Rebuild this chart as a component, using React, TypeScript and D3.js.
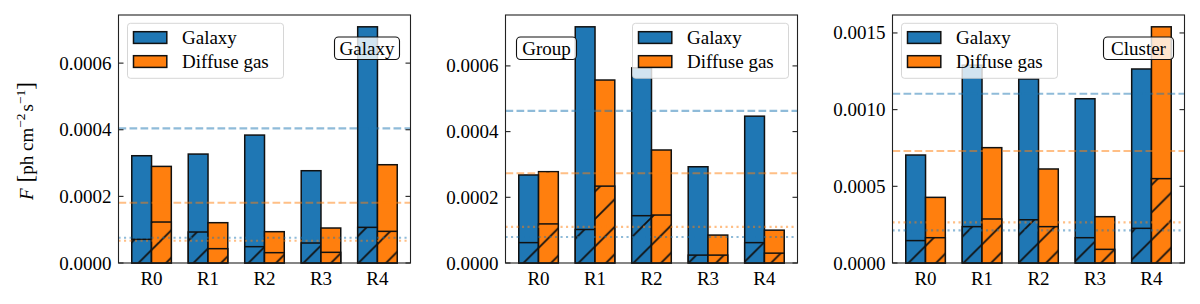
import React from "react";
import * as d3 from "d3";

// region labels along the x axis
const categories = ["R0", "R1", "R2", "R3", "R4"];
const panelNames = ["Galaxy", "Group", "Cluster"];

// total flux per region (one row per panel)
const galaxyTotal = [
  [0.000322, 0.000327, 0.000384, 0.000277, 0.000709],
  [0.000268, 0.000719, 0.000594, 0.000293, 0.000447],
  [0.000704, 0.00129, 0.0012, 0.001071, 0.001265],
];
const diffuseTotal = [
  [0.00029, 0.000121, 0.000094, 0.000105, 0.000295],
  [0.000278, 0.000557, 0.000344, 0.000085, 0.0001],
  [0.000428, 0.000752, 0.000613, 0.000302, 0.00154],
];
// hatched part of each bar
const galaxyLower = [
  [0.000071, 0.000093, 0.000049, 0.00006, 0.000107],
  [0.000062, 0.000102, 0.000144, 0.000024, 0.000062],
  [0.000146, 0.000237, 0.000282, 0.000165, 0.000226],
];
const diffuseLower = [
  [0.000123, 0.000043, 0.000031, 0.000032, 0.000095],
  [0.000119, 0.000234, 0.000146, 0.000024, 0.00003],
  [0.000165, 0.000287, 0.000237, 0.000089, 0.00055],
];
// horizontal reference levels (dashed = totals, dotted = hatched part)
const galaxyDashed = [0.000404, 0.000463, 0.001104];
const diffuseDashed = [0.000181, 0.000273, 0.00073];
const galaxyDotted = [0.000076, 0.000079, 0.000213];
const diffuseDotted = [0.000067, 0.00011, 0.000265];

const BLUE = "#1f77b4";
const ORANGE = "#ff7f0e";
const FONT = "'Liberation Serif', serif";
const FS = 19;
const HATCH = 27.5;

const top = 15;
const bottom = 263;
const panelLefts = [118.5, 505.5, 892.5];
const panelWidth = 292;
const barW = 0.35;

function Panel({ i }: { i: number }) {
  const left = panelLefts[i];
  const right = left + panelWidth;
  const maxV = d3.max([...galaxyTotal[i], ...diffuseTotal[i]]) as number;
  const y = d3.scaleLinear().domain([0, maxV * 1.05]).range([bottom, top]);
  const x = d3.scaleLinear().domain([-0.585, 4.585]).range([left, right]);
  const ticks = y.ticks(4);
  const fmt = d3.format(".4f");

  const bars = categories.flatMap((c, k) => [
    { k, x0: k - barW, total: galaxyTotal[i][k], lower: galaxyLower[i][k], color: BLUE },
    { k, x0: k, total: diffuseTotal[i][k], lower: diffuseLower[i][k], color: ORANGE },
  ]);

  const lines = [
    { v: galaxyDashed[i], color: BLUE, dash: "7.7,3.3" },
    { v: diffuseDashed[i], color: ORANGE, dash: "7.7,3.3" },
    { v: galaxyDotted[i], color: BLUE, dash: "2.1,3.4" },
    { v: diffuseDotted[i], color: ORANGE, dash: "2.1,3.4" },
  ];

  // legend placement: upper left, upper right, upper left
  const legW = 156;
  const legX = i === 1 ? right - 9 - legW : left + 9;
  const legY = 23.3;

  // text box with panel name
  const boxW = i === 0 ? 65 : i === 1 ? 60 : 70;
  const boxX = i === 1 ? left + 11 : right - 11 - boxW;
  const boxY = 37;
  const boxH = 22.5;

  return (
    <g>
      {bars.map((b, n) => {
        const bx = x(b.x0);
        const bw = x(b.x0 + barW) - bx;
        return (
          <g key={n}>
            <rect x={bx} y={y(b.total)} width={bw} height={y(0) - y(b.total)} fill={b.color} stroke="#111" strokeWidth={1.5} />
            <rect x={bx} y={y(b.lower)} width={bw} height={y(0) - y(b.lower)} fill={b.color} />
            <rect x={bx} y={y(b.lower)} width={bw} height={y(0) - y(b.lower)} fill="url(#hatch)" stroke="#111" strokeWidth={1.5} />
          </g>
        );
      })}
      {lines.map((l, n) => (
        <line key={n} x1={left} x2={right} y1={y(l.v)} y2={y(l.v)} stroke={l.color} strokeOpacity={0.5} strokeWidth={2.1} strokeDasharray={l.dash} />
      ))}
      <rect x={left} y={top} width={panelWidth} height={bottom - top} fill="none" stroke="#222" strokeWidth={1.1} />
      {ticks.map((t) => (
        <g key={t}>
          <line x1={left} x2={left + 5} y1={y(t)} y2={y(t)} stroke="#222" strokeWidth={1.1} />
          <line x1={right - 5} x2={right} y1={y(t)} y2={y(t)} stroke="#222" strokeWidth={1.1} />
          <text x={left - 7} y={y(t)} textAnchor="end" dominantBaseline="central" style={{ fontFamily: FONT }} fontSize={FS}>
            {fmt(t)}
          </text>
        </g>
      ))}
      {categories.map((c, k) => (
        <text key={c} x={x(k)} y={285} textAnchor="middle" style={{ fontFamily: FONT }} fontSize={FS}>
          {c}
        </text>
      ))}
      <g>
        <rect x={legX} y={legY} width={legW} height={55} rx={3} fill="white" fillOpacity={0.8} stroke="#ccc" strokeOpacity={0.8} />
        {[
          { label: "Galaxy", color: BLUE, yy: legY + 8.4 },
          { label: "Diffuse gas", color: ORANGE, yy: legY + 32.4 },
        ].map((e) => (
          <g key={e.label}>
            <rect x={legX + 6} y={e.yy} width={33.3} height={11.7} fill={e.color} stroke="#111" strokeWidth={1.5} />
            <text x={legX + 54.5} y={e.yy + 6} dominantBaseline="central" style={{ fontFamily: FONT }} fontSize={FS}>
              {e.label}
            </text>
          </g>
        ))}
      </g>
      <rect x={boxX} y={boxY} width={boxW} height={boxH} rx={4} fill="white" fillOpacity={0.8} stroke="#111" strokeWidth={1.1} />
      <text x={boxX + boxW / 2} y={boxY + boxH / 2 + 0.5} textAnchor="middle" dominantBaseline="central" style={{ fontFamily: FONT }} fontSize={FS}>
        {panelNames[i]}
      </text>
    </g>
  );
}

export default function App() {
  return (
    <svg width={1200} height={304} style={{ position: "absolute", left: 0, top: 0, background: "white" }}>
      <defs>
        <pattern id="hatch" patternUnits="userSpaceOnUse" x={16.5} y={0} width={HATCH} height={HATCH}>
          <path
            d={`M-1,${HATCH + 1} L${HATCH + 1},-1 M-1,1 L1,-1 M${HATCH - 1},${HATCH + 1} L${HATCH + 1},${HATCH - 1}`}
            stroke="#111"
            strokeWidth={1.8}
          />
        </pattern>
      </defs>
      {panelNames.map((_, i) => (
        <Panel key={i} i={i} />
      ))}
      <text transform="translate(33,141) rotate(-90)" textAnchor="middle" style={{ fontFamily: FONT }} fontSize={FS}>
        <tspan fontStyle="italic">F</tspan>
        <tspan dx={6} fontSize={23}>[</tspan>
        <tspan>ph cm</tspan>
        <tspan dy={-8} fontSize={13.5}>−2</tspan>
        <tspan dy={8} dx={2}>s</tspan>
        <tspan dy={-8} fontSize={13.5}>−1</tspan>
        <tspan dy={8} fontSize={23}>]</tspan>
      </text>
    </svg>
  );
}
